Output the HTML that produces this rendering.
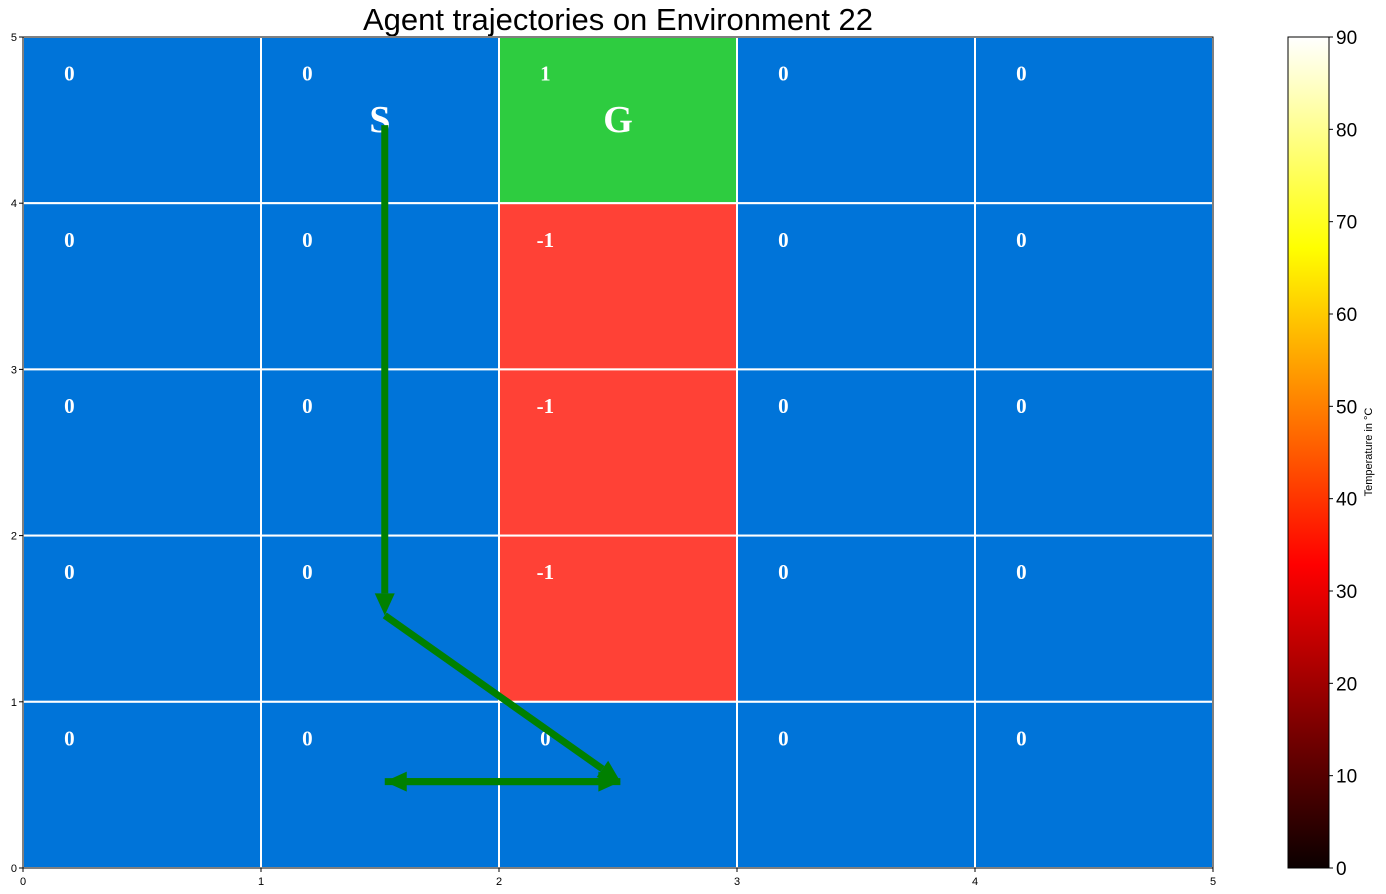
<!DOCTYPE html>
<html><head><meta charset="utf-8"><style>
body{margin:0;background:#fff;font-family:"Liberation Sans","DejaVu Sans",sans-serif;}
svg{display:block}
</style></head><body>
<svg id="chart" width="1386" height="894" xmlns="http://www.w3.org/2000/svg">
<defs>
<linearGradient id="hot" x1="0" y1="1" x2="0" y2="0">
<stop offset="0" stop-color="#0b0000"/>
<stop offset="0.365" stop-color="#ff0000"/>
<stop offset="0.746" stop-color="#ffff00"/>
<stop offset="1" stop-color="#ffffff"/>
</linearGradient>
</defs>
<text x="618" y="30" font-size="31" text-anchor="middle" fill="#000">Agent trajectories on Environment 22</text>
<g id="cells"></g>
<g id="labels"></g>
<g id="arrows"></g>
<g id="axes"></g>
<g id="cbar"></g>
</svg>
<script>
const rewards = [
 [0,0,1,0,0],
 [0,0,-1,0,0],
 [0,0,-1,0,0],
 [0,0,-1,0,0],
 [0,0,0,0,0]
];
const path = [[1.52,4.47],[1.52,1.52],[2.51,0.52],[1.52,0.52]];
const startCell = [1,4];
const goalCell = [2,4];
const xTicks = [0,1,2,3,4,5];
const yTicks = [0,1,2,3,4,5];
const cbTicks = [0,10,20,30,40,50,60,70,80,90];

const L=23,R=1213,T=37,B=868;
const sx=v=>L+v*(R-L)/5, sy=v=>B-v*(B-T)/5;
const NS="http://www.w3.org/2000/svg";
function mk(tag,attrs,parent,txt){const e=document.createElementNS(NS,tag);for(const k in attrs)e.setAttribute(k,attrs[k]);if(txt!==undefined)e.textContent=txt;parent.appendChild(e);return e;}
const cells=document.getElementById('cells'),labels=document.getElementById('labels'),arrows=document.getElementById('arrows'),axes=document.getElementById('axes'),cbar=document.getElementById('cbar');
for(let r=0;r<5;r++)for(let c=0;c<5;c++){
 const v=rewards[r][c];const yv=4-r;
 let col=v>0?'#2ecc40':(v<0?'#ff4136':'#0074d9');
 const e=mk('rect',{x:sx(c),y:sy(yv+1),width:sx(c+1)-sx(c),height:sy(yv)-sy(yv+1),fill:col,stroke:'#fff','stroke-width':2},cells);
 
 
 const t=mk('text',{x:sx(c+0.195),y:sy(yv+0.78),'font-size':21,'font-weight':'bold','font-family':'"Liberation Serif",serif',fill:'#fff','text-anchor':'middle','dominant-baseline':'central'},labels,String(v));
 
 
}
[[startCell,'S'],[goalCell,'G']].forEach(([p,s])=>{
 const t=mk('text',{x:sx(p[0]+0.5),y:sy(p[1]+0.5),'font-size':38,'font-weight':'bold','font-family':'"Liberation Serif",serif',fill:'#fff','text-anchor':'middle','dominant-baseline':'central'},labels,s);
 
 
});
function arrow(x1,y1,x2,y2){
 const dx=x2-x1,dy=y2-y1,len=Math.hypot(dx,dy),ux=dx/len,uy=dy/len,hl=22,hw=10;
 const bx=x2-ux*hl,by=y2-uy*hl;
 const g=mk('g',{},arrows);
 
 
 mk('line',{x1:x1,y1:y1,x2:bx,y2:by,stroke:'#008000','stroke-width':7},g);
 mk('polygon',{points:`${x2},${y2} ${bx-uy*hw},${by+ux*hw} ${bx+uy*hw},${by-ux*hw}`,fill:'#008000'},g);
}
for(let i=0;i<path.length-1;i++){arrow(sx(path[i][0]),sy(path[i][1]),sx(path[i+1][0]),sy(path[i+1][1]));}
{const a=path[path.length-1],b=path[path.length-2];arrow(sx(a[0]),sy(a[1]),sx(b[0]),sy(b[1]));}
mk('rect',{x:L,y:T,width:R-L,height:B-T,fill:'none',stroke:'#000','stroke-width':1},axes);
xTicks.forEach(v=>{mk('line',{x1:sx(v),y1:B,x2:sx(v),y2:B+4,stroke:'#000'},axes);
 const t=mk('text',{x:sx(v),y:B+17,'font-size':11,'text-anchor':'middle'},axes,String(v));
 });
yTicks.forEach(v=>{mk('line',{x1:L-4,y1:sy(v),x2:L,y2:sy(v),stroke:'#000'},axes);
 const t=mk('text',{x:L-6,y:sy(v)+4,'font-size':11,'text-anchor':'end'},axes,String(v));
 });
const cx=1288,cw=41;const cy=v=>B-v/90*(B-T);
const cb=mk('rect',{x:cx,y:T,width:cw,height:B-T,fill:'url(#hot)',stroke:'#000','stroke-width':1},cbar);

cbTicks.forEach(v=>{mk('line',{x1:cx+cw,y1:cy(v),x2:cx+cw+4,y2:cy(v),stroke:'#000'},cbar);
 const t=mk('text',{x:cx+cw+7,y:cy(v)+7,'font-size':19},cbar,String(v));
 });
const lab=mk('text',{x:1372,y:452,'font-size':11,'text-anchor':'middle',transform:'rotate(-90 1372 452)'},cbar,'Temperature in °C');

</script>
</body></html>
